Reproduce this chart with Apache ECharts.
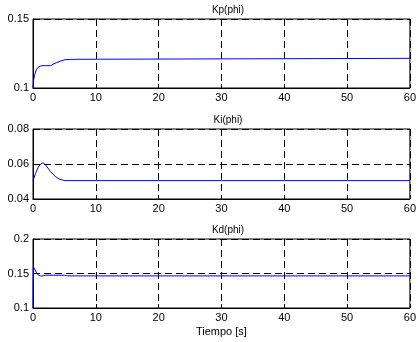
<!DOCTYPE html>
<html>
<head>
<meta charset="utf-8">
<script src="https://cdn.jsdelivr.net/npm/echarts@6/dist/echarts.min.js"></script>
<style>
html,body{margin:0;padding:0;background:#fff;}
#chart{width:419px;height:342px;}
</style>
</head>
<body>
<div id="chart"></div>
<script>
// datos
var titles = ['Kp(phi)', 'Ki(phi)', 'Kd(phi)'];
var tKp = [0, 0.1, 0.3, 0.5, 0.8, 1.2, 1.6, 2.0, 2.8, 3.3, 3.8, 4.4, 5.1, 6.0, 7.0, 7.2, 60];
var kp = [0.100, 0.106, 0.110, 0.113, 0.115, 0.116, 0.1162, 0.1162, 0.1162, 0.1175, 0.1185, 0.1195, 0.1205, 0.1207, 0.1208, 0.1215, 0.1215];
var tKi = [0, 0.4, 0.8, 1.2, 1.6, 2.0, 2.8, 3.6, 4.3, 5.1, 60];
var ki = [0.0505, 0.0545, 0.0580, 0.0600, 0.0607, 0.0595, 0.0556, 0.0527, 0.0512, 0.0505, 0.0505];
var tKd = [0, 0.05, 0.2, 0.5, 0.8, 1.2, 1.6, 2.0, 5.0, 5.5, 60];
var kd = [0.100, 0.160, 0.158, 0.152, 0.148, 0.1465, 0.1465, 0.1475, 0.1475, 0.1465, 0.1465];
var xTicks = [0, 10, 20, 30, 40, 50, 60];
var yRanges = [[0.1, 0.15, 0.05], [0.04, 0.08, 0.02], [0.1, 0.2, 0.05]];

var myChart = echarts.init(document.getElementById('chart'));

function pares(t, v) {
  var out = [];
  for (var i = 0; i < t.length; i++) out.push([t[i], v[i]]);
  return out;
}

var tops = [19, 129, 239];
var heights = [69, 70, 69];
var series = [pares(tKp, kp), pares(tKi, ki), pares(tKd, kd)];
var fuente = 'Liberation Sans, Arial, sans-serif';
var grids = [], xAxes = [], yAxes = [], ser = [], tit = [];

for (var i = 0; i < 3; i++) {
  grids.push({left: 33, right: 7, top: tops[i], height: heights[i],
    show: true, borderColor: '#000', borderWidth: 1, backgroundColor: '#fff'});
  xAxes.push({
    type: 'value', gridIndex: i, min: xTicks[0], max: xTicks[xTicks.length - 1], interval: 10,
    axisLine: {show: true, lineStyle: {color: '#000', width: 1}},
    axisTick: {show: true, inside: true, length: 4, lineStyle: {color: '#000'}},
    axisLabel: {color: '#000', fontSize: 11, fontFamily: fuente, margin: 4},
    splitLine: {show: true, lineStyle: {color: '#000', type: [7, 4], width: 1}},
    name: i == 2 ? 'Tiempo [s]' : '', nameLocation: 'middle', nameGap: 18,
    nameTextStyle: {color: '#000', fontSize: 11, fontFamily: fuente}
  });
  yAxes.push({
    type: 'value', gridIndex: i, min: yRanges[i][0], max: yRanges[i][1], interval: yRanges[i][2],
    axisLine: {show: true, lineStyle: {color: '#000', width: 1}},
    axisTick: {show: true, inside: true, length: 4, lineStyle: {color: '#000'}},
    axisLabel: {color: '#000', fontSize: 11, fontFamily: fuente, margin: 4,
      formatter: function (v) { return String(parseFloat(v.toFixed(3))); }},
    splitLine: {show: true, lineStyle: {color: '#000', type: [7, 4], width: 1}}
  });
  ser.push({type: 'line', xAxisIndex: i, yAxisIndex: i, data: series[i], showSymbol: false,
    lineStyle: {color: '#0000ff', width: 1}, animation: false, z: 5});
  tit.push({text: titles[i], left: 223, textAlign: 'center', top: tops[i] - 19,
    textStyle: {color: '#000', fontSize: 10, fontWeight: 'normal', fontFamily: fuente}});
}

var option = {
  animation: false,
  title: tit,
  grid: grids,
  xAxis: xAxes,
  yAxis: yAxes,
  series: ser
};
myChart.setOption(option);
</script>
</body>
</html>
